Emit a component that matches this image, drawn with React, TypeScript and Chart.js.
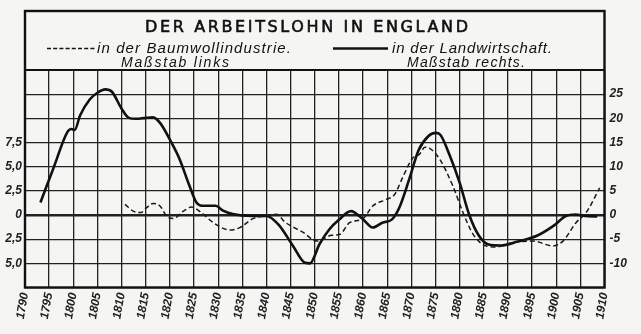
import React, { useEffect, useRef } from "react";
import { Chart, registerables } from "chart.js";

Chart.register(...registerables);

// Landwirtschaft (right scale)
const agriYears = [1793.2, 1796, 1798.8, 1799.6, 1800.3, 1801.4, 1803.4, 1805, 1806.6, 1808, 1810, 1811.5, 1813, 1815, 1816.5, 1818, 1820, 1822, 1824, 1825.5, 1827, 1829.5, 1831, 1833, 1837, 1840, 1842.5, 1845.5, 1848, 1849, 1851, 1853, 1855, 1857.5, 1860, 1862, 1864, 1866, 1867.5, 1869.5, 1871.5, 1873.5, 1875, 1876, 1878, 1880, 1882, 1884, 1886, 1888.5, 1892, 1896, 1899.5, 1902, 1904, 1906, 1908.5];
const agriValues = [2.6, 10, 17.2, 17.8, 17.6, 20.6, 23.9, 25.3, 26.0, 25.5, 22.0, 20.1, 19.9, 20.1, 20.2, 19.0, 15.6, 11.6, 6.2, 2.6, 1.9, 1.9, 0.9, 0.2, -0.2, -0.2, -2.0, -6.4, -9.9, -10.0, -6.0, -3.0, -1.0, 0.8, -0.9, -2.6, -1.6, -0.9, 1.5, 7.2, 13.4, 16.3, 17.0, 16.6, 12.2, 6.7, 0.0, -4.3, -6.1, -6.3, -5.5, -4.3, -2.2, -0.2, 0.1, -0.2, -0.3];

// Baumwollindustrie (left scale)
const cottonYears = [1810.7, 1812.4, 1814, 1815.2, 1816.5, 1818, 1819.3, 1820.7, 1822.8, 1824.5, 1826.5, 1829, 1832.4, 1834.5, 1837.2, 1840, 1842, 1844, 1847.6, 1850.4, 1853.5, 1855.2, 1857.2, 1860, 1862, 1864.8, 1866.5, 1868.3, 1870.3, 1871.7, 1872.8, 1873.8, 1875.9, 1878.6, 1880.7, 1882.8, 1885.5, 1887.6, 1891, 1895.2, 1899.3, 1901.4, 1904.1, 1906.2, 1909];
const cottonValues = [1.1, 0.4, 0.25, 0.76, 1.2, 0.9, -0.1, -0.37, 0.4, 0.83, 0.25, -0.8, -1.55, -1.3, -0.37, -0.1, 0.07, -0.8, -1.8, -2.7, -2.1, -2.0, -0.8, -0.37, 0.93, 1.6, 2.1, 4.0, 5.9, 6.3, 7.0, 6.9, 5.75, 3.0, 0.25, -2.0, -3.2, -3.3, -2.85, -2.7, -3.2, -2.7, -0.8, 0.25, 2.8];

const title = "DER ARBEITSLOHN IN ENGLAND";
const cottonLabel = "in der Baumwollindustrie.";
const cottonScale = "Maßstab links";
const agriLabel = "in der Landwirtschaft.";
const agriScale = "Maßstab rechts.";

const FONT = '"Liberation Sans", "DejaVu Sans", sans-serif';

function fitText(ctx: CanvasRenderingContext2D, text: string, x1: number, x2: number, y: number, stroke = 0) {
  (ctx as any).letterSpacing = "0px";
  const w = ctx.measureText(text).width;
  const n = text.length;
  const sp = n > 1 ? (x2 - x1 - w) / (n - 1) : 0;
  (ctx as any).letterSpacing = Math.max(-1.5, Math.min(6, sp)).toFixed(2) + "px";
  ctx.textAlign = "left";
  ctx.fillText(text, x1, y);
  if (stroke > 0) {
    ctx.lineWidth = stroke;
    ctx.strokeText(text, x1, y);
  }
  (ctx as any).letterSpacing = "0px";
}

const decor = {
  id: "decor",
  beforeDraw(chart: any) {
    const { ctx, width, height } = chart;
    ctx.save();
    ctx.fillStyle = "#f5f5f3";
    ctx.fillRect(0, 0, width, height);
    ctx.restore();
  },
  afterDraw(chart: any) {
    const { ctx, chartArea: a } = chart;
    ctx.save();
    ctx.strokeStyle = "#111";
    ctx.lineWidth = 2.4;
    ctx.strokeRect(a.left, 11, a.right - a.left, a.bottom - 11);
    ctx.lineWidth = 1.8;
    ctx.beginPath();
    ctx.moveTo(a.left, a.top);
    ctx.lineTo(a.right, a.top);
    ctx.stroke();

    ctx.fillStyle = "#111";
    ctx.textBaseline = "alphabetic";
    ctx.font = `16px "DejaVu Sans", sans-serif`;
    fitText(ctx, title, 145, 468, 31.5, 0.6);

    ctx.font = `italic 15px ${FONT}`;
    fitText(ctx, cottonLabel, 97, 291, 53);
    fitText(ctx, agriLabel, 392, 552, 53);
    ctx.font = `italic 14px ${FONT}`;
    fitText(ctx, cottonScale, 121, 229, 66.5);
    fitText(ctx, agriScale, 407, 525, 66.5);

    // legend samples
    ctx.lineWidth = 1.6;
    ctx.setLineDash([4, 2.2]);
    ctx.beginPath();
    ctx.moveTo(47, 48.5);
    ctx.lineTo(96, 48.5);
    ctx.stroke();
    ctx.setLineDash([]);
    ctx.lineWidth = 2.6;
    ctx.beginPath();
    ctx.moveTo(333, 48.5);
    ctx.lineTo(388, 48.5);
    ctx.stroke();
    ctx.restore();
  },
};

export default function App() {
  const ref = useRef<HTMLCanvasElement | null>(null);
  useEffect(() => {
    if (!ref.current) return;
    const tickFont = { family: FONT, size: 12, style: "italic" as const, weight: "bold" as const };
    const chart = new Chart(ref.current, {
      type: "line",
      data: {
        datasets: [
          {
            label: cottonLabel,
            data: cottonYears.map((x, i) => ({ x, y: cottonValues[i] })),
            yAxisID: "yL",
            borderColor: "#1a1a1a",
            borderWidth: 1.5,
            borderDash: [5, 3],
            pointRadius: 0,
            cubicInterpolationMode: "monotone",
            fill: false,
          },
          {
            label: agriLabel,
            data: agriYears.map((x, i) => ({ x, y: agriValues[i] })),
            yAxisID: "yR",
            borderColor: "#111",
            borderWidth: 2.6,
            pointRadius: 0,
            cubicInterpolationMode: "monotone",
            fill: false,
          },
        ],
      },
      options: {
        animation: false,
        responsive: false,
        layout: { padding: { top: 70, left: 0, right: 0, bottom: 0 } },
        plugins: { legend: { display: false }, tooltip: { enabled: false }, title: { display: false } },
        scales: {
          x: {
            type: "linear",
            min: 1790,
            max: 1910,
            border: { display: false },
            grid: { color: "#222", lineWidth: 1.3, drawTicks: false },
            ticks: {
              stepSize: 5,
              autoSkip: false,
              minRotation: 80,
              maxRotation: 80,
              padding: 4,
              color: "#222",
              font: tickFont,
              callback: (v: any) => String(v),
            },
            afterFit: (s: any) => { s.height = 46.5; },
          },
          yL: {
            type: "linear",
            position: "left",
            min: -7.5,
            max: 15,
            border: { display: false },
            grid: {
              color: "#222",
              lineWidth: (c: any) => (c.tick && c.tick.value === 0 ? 2.4 : 1.3),
              drawTicks: false,
            },
            ticks: {
              stepSize: 2.5,
              padding: 3,
              color: "#222",
              font: tickFont,
              callback: (v: any) => {
                const n = Number(v);
                if (n < -5.01 || n > 7.51) return "";
                if (Math.abs(n) < 1e-9) return "0";
                return Math.abs(n).toFixed(1).replace(".", ",");
              },
            },
            afterFit: (s: any) => { s.width = 25; },
          },
          yR: {
            type: "linear",
            position: "right",
            min: -15,
            max: 30,
            border: { display: false },
            grid: { display: false, drawTicks: false },
            ticks: {
              stepSize: 5,
              padding: 5,
              color: "#222",
              font: tickFont,
              callback: (v: any) => {
                const n = Number(v);
                if (n < -10.01 || n > 25.01) return "";
                return String(n);
              },
            },
            afterFit: (s: any) => { s.width = 36.5; },
          },
        },
      },
      plugins: [decor],
    });
    return () => chart.destroy();
  }, []);
  return (
    <div style={{ position: "absolute", left: 0, top: 0, width: 641, height: 334 }}>
      <canvas ref={ref} width={641} height={334} style={{ display: "block", width: 641, height: 334 }} />
    </div>
  );
}
